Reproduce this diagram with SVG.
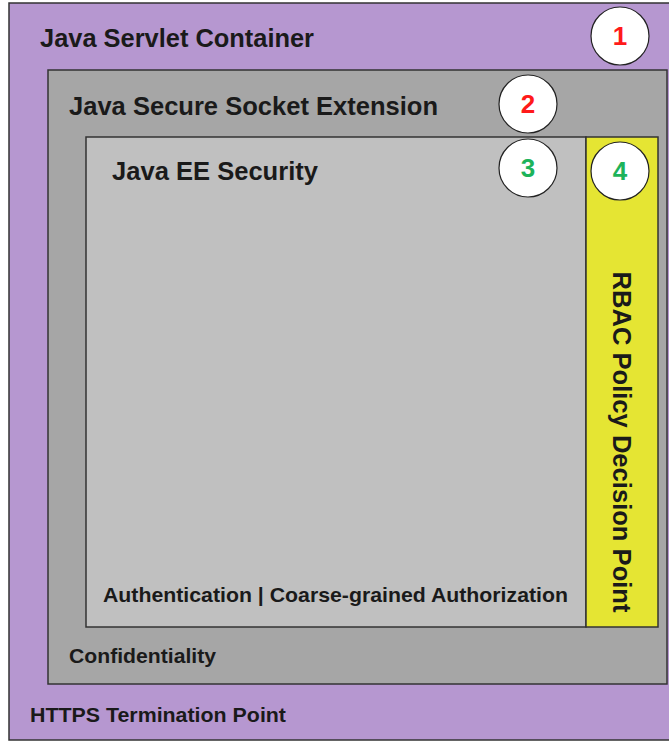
<svg xmlns="http://www.w3.org/2000/svg" width="669" height="741" viewBox="0 0 669 741">
<style>
.box{stroke:#333;stroke-width:1.5}
.t{font-family:"Liberation Sans",Arial,sans-serif;font-weight:bold;fill:#1a1a1a}
.big{font-size:25px}
.small{font-size:21px}
.badge{fill:#fff;stroke:#222;stroke-width:1.2}
.num{font-family:"Liberation Sans",Arial,sans-serif;font-weight:bold;font-size:26px;text-anchor:middle}
.red{fill:#ff1a1a}
.green{fill:#1db35a}
</style>
<g id="servlet-container">
<rect class="box" x="9" y="3" width="670" height="737" fill="#b697d0"/>
<text class="t big" x="40" y="47" textLength="274" lengthAdjust="spacingAndGlyphs">Java Servlet Container</text>
<text class="t small" x="30" y="722" textLength="256" lengthAdjust="spacingAndGlyphs">HTTPS Termination Point</text>
</g>
<g id="badge-1"><circle class="badge" cx="620" cy="36" r="29"/><text class="num red" x="620" y="45">1</text></g>
<g id="jsse">
<rect class="box" x="48" y="70" width="619" height="614" fill="#a6a6a6"/>
<text class="t big" x="69" y="115" textLength="369" lengthAdjust="spacingAndGlyphs">Java Secure Socket Extension</text>
<text class="t small" x="69" y="663" textLength="147" lengthAdjust="spacingAndGlyphs">Confidentiality</text>
</g>
<g id="badge-2"><circle class="badge" cx="528" cy="104" r="29"/><text class="num red" x="528" y="113">2</text></g>
<g id="javaee-security">
<rect class="box" x="86" y="137" width="500" height="490" fill="#c0c0c0"/>
<text class="t big" x="112" y="180" textLength="206" lengthAdjust="spacingAndGlyphs">Java EE Security</text>
<text class="t small" x="103" y="602" textLength="465" lengthAdjust="spacingAndGlyphs">Authentication | Coarse-grained Authorization</text>
</g>
<g id="badge-3"><circle class="badge" cx="528" cy="168" r="29"/><text class="num green" x="528" y="177">3</text></g>
<g id="rbac-pdp">
<rect class="box" x="586" y="137" width="72" height="490" fill="#e5e533"/>
<text class="t big" transform="translate(613,442) rotate(90)" text-anchor="middle" textLength="341" lengthAdjust="spacingAndGlyphs">RBAC Policy Decision Point</text>
</g>
<g id="badge-4"><circle class="badge" cx="620" cy="171" r="29"/><text class="num green" x="620" y="180">4</text></g>
<g id="connectors"/>
</svg>
